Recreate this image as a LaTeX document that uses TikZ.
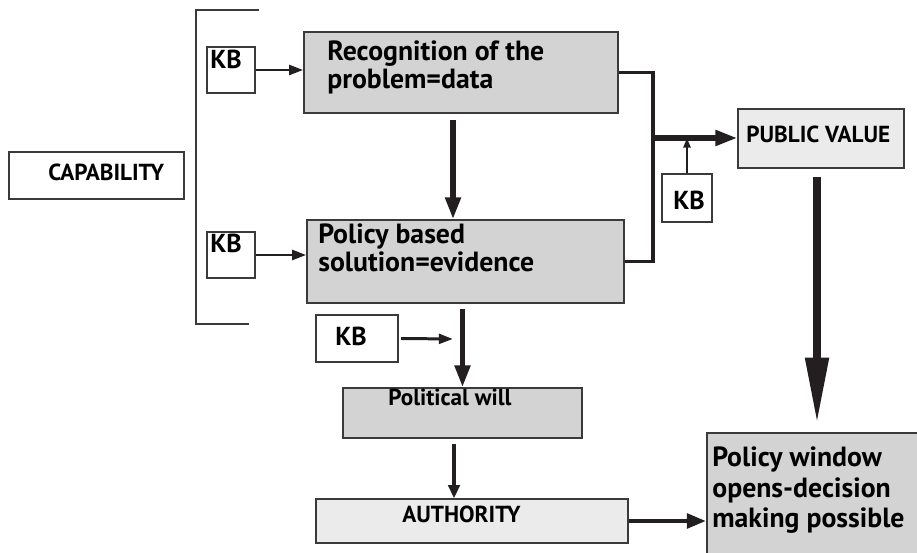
\documentclass[tikz,border=0pt]{standalone}
\usepackage{fontspec}
\setmainfont{PT Sans}
\usetikzlibrary{arrows.meta,fit}

\definecolor{ink}{HTML}{231F20}
\definecolor{boxline}{HTML}{3A3A3A}
\definecolor{boxgrey}{HTML}{D3D3D3}
\definecolor{boxlight}{HTML}{EBEBEB}

\tikzset{
  greybox/.style={draw=boxline, fill=boxgrey, line width=0.8pt, inner sep=0pt},
  lightbox/.style={draw=boxline, fill=boxlight, line width=0.8pt, inner sep=0pt},
  whitebox/.style={draw=boxline, fill=white, line width=0.8pt, inner sep=0pt},
  bigtext/.style={font=\fontsize{15.8}{16.4}\selectfont\bfseries, align=left,
    anchor=base west, inner sep=0pt, text=black},
  kbtext/.style={font=\fontsize{14.8}{16}\selectfont\bfseries,
    anchor=base west, inner sep=0pt, text=black},
  smalltext/.style={font=\fontsize{13.2}{15}\selectfont\bfseries,
    anchor=base west, inner sep=0pt, text=black},
  thinarrow/.style={draw=ink, line width=1.7pt, -{Triangle[length=8pt,width=5.5pt]}},
  bigarrow/.style={draw=ink, line width=3pt, -{Triangle[length=12.5pt,width=8.5pt]}},
  hugearrow/.style={draw=ink, line width=4.7pt, -{Triangle[length=38pt,width=12.5pt]}},
  busline/.style={draw=ink, line width=2.2pt}
}

\begin{document}
\begin{tikzpicture}[x=0.02cm,y=-0.02cm]
\useasboundingbox (0,0) rectangle (917,553);

%CAPABILITY
  \node [whitebox, fit={(9,152) (184,199)}] (capab) {};
  \node (capab-l) at (48,181) [smalltext] {CAPABILITY};
  \draw [draw=boxline, line width=1pt] (259,10) -| (196,324) -- (249,324);

%DATA AND EVIDENCE
  \node [whitebox, fit={(207,47) (255,93)}] (kbA) {};
  \node (kbA-l) at (210,69) [kbtext] {KB};
  \node [greybox, fit={(304,32) (618,113)}] (recog) {};
  \node (recog-l) at (327,89) [bigtext] {Recognition of the\\problem=data};
  \draw [thinarrow] (kbA.east) -- (kbA.east -| recog.west);

  \node [whitebox, fit={(207,232) (255,278)}] (kbB) {};
  \node (kbB-l) at (210,253) [kbtext] {KB};
  \node [greybox, fit={(307,220) (624,303)}] (policy) {};
  \node (policy-l) at (318,272) [bigtext] {Policy based\\solution=evidence};
  \draw [thinarrow] (kbB.east) -- (kbB.east -| policy.west);

  \draw [bigarrow] ([xshift=-0.16cm,yshift=-0.12cm]recog.south)
    -- ([xshift=-0.16cm]recog.south |- policy.north);

%PUBLIC VALUE
  \coordinate (bus) at (653,138);
  \draw [busline] (recog.east) -| (bus) |- (policy.east);
  \node [lightbox, fit={(738,109) (904,168)}] (pubval) {};
  \node (pubval-l) at (746,143) [smalltext] {PUBLIC VALUE};
  \draw [bigarrow] (bus) -- (bus -| pubval.west);

  \node [whitebox, fit={(662,174) (712,222)}] (kbD) {};
  \node (kbD-l) at (673,210) [kbtext] {KB};
  \draw [draw=ink, line width=1.4pt, -{Triangle[length=5.5pt,width=4pt]}]
    (kbD.north) -- (kbD.north |- bus);

%POLITICAL WILL
  \node [whitebox, fit={(316,315) (398,362)}] (kbC) {};
  \node (kbC-l) at (335,346) [kbtext] {KB};
  \node [greybox, fit={(343,388) (582,438)}] (will) {};
  \node (will-l) at (388,406) [smalltext] {Political will};
  \coordinate (join) at (453,339);
  \draw [thinarrow] (kbC.east -| 401,0) -- (join);
  \draw [bigarrow] ([yshift=-0.1cm]policy.south -| will.north) -- (will.north);

  \node [lightbox, fit={(316,499) (628,543)}] (auth) {};
  \node (auth-l) at (402,523) [smalltext] {AUTHORITY};
  \draw [draw=ink, line width=2pt, -{Triangle[length=7.5pt,width=6.5pt]}]
    ([xshift=-0.17cm,yshift=-0.1cm]will.south) -- ([xshift=-0.17cm]will.south |- auth.north);

%POLICY WINDOW
  \node [greybox, fit={(707,433) (921,557)}] (window) {};
  \node (window-l) at (712,528) [bigtext, font=\fontsize{15.8}{17.6}\selectfont\bfseries]
    {Policy window\\opens-decision\\making possible};
  \draw [bigarrow, line width=2.8pt, -{Triangle[length=11pt,width=8pt]}]
    (auth.east) -- (auth.east -| window.west);
  \draw [hugearrow, shorten >=0.16cm] ([xshift=-0.08cm,yshift=-0.16cm]pubval.south)
    -- ([xshift=-0.08cm]pubval.south |- window.north);
\end{tikzpicture}
\end{document}
